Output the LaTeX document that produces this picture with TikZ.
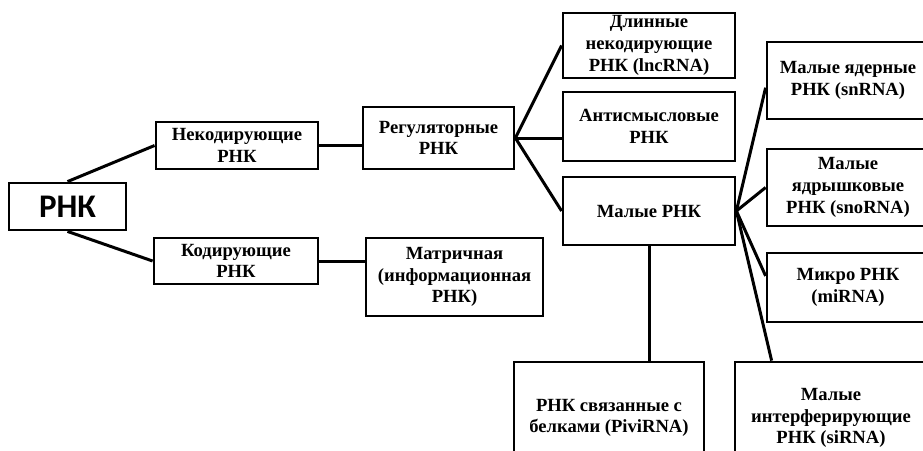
\documentclass[tikz,border=0pt]{standalone}
\usepackage{fontspec}
\setmainfont{Liberation Serif}
\newfontfamily\rnkfont{Carlito}
\usetikzlibrary{calc}

\tikzset{
  rnabox/.style={draw, line width=2.8pt, align=center, inner sep=0pt,
    font=\fontsize{18.6}{21.7}\selectfont\bfseries},
  link/.style={line width=3pt}
}

\begin{document}
\begin{tikzpicture}[x=1pt,y=-1pt]
   \useasboundingbox (0,0) rectangle (923,450);
   \clip (0,0) rectangle (923,450);
   \node[rnabox,minimum width=117pt,minimum height=47pt,font=\rnkfont\fontsize{33}{36}\selectfont\bfseries] (rnk) at (67.5,206.5) {РНК};
   \node[rnabox,minimum width=162pt,minimum height=47pt] (nekod) at (237,145.5) {Некодирующие\\РНК};
   \node[rnabox,minimum width=164pt,minimum height=46pt] (kod) at (236,261) {Кодирующие\\РНК};
   \node[rnabox,minimum width=151pt,minimum height=62pt] (regul) at (438.5,138) {Регуляторные\\РНК};
   \node[rnabox,minimum width=177pt,minimum height=78pt] (matr) at (454.5,277) {Матричная\\(информационная\\РНК)};
   \node[rnabox,minimum width=172pt,minimum height=65pt] (lnc) at (649,45.5) {Длинные\\некодирующие\\РНК (lncRNA)};
   \node[rnabox,minimum width=172pt,minimum height=69pt] (anti) at (649,126.5) {Антисмысловые\\РНК};
   \node[rnabox,minimum width=172pt,minimum height=68pt] (small) at (649,211) {Малые РНК};
   \node[rnabox,minimum width=162pt,minimum height=77pt] (sn) at (848,80.5) {Малые ядерные\\РНК (snRNA)};
   \node[rnabox,minimum width=162pt,minimum height=77pt] (sno) at (848,187.5) {Малые\\ядрышковые\\РНК (snoRNA)};
   \node[rnabox,minimum width=162pt,minimum height=69pt] (mi) at (848,287.5) {Микро РНК\\(miRNA)};
   \node[rnabox,minimum width=190pt,minimum height=112pt] (piwi) at (609,418) {РНК связанные с\\белками (PiviRNA)};
   \node[rnabox,minimum width=192pt,minimum height=112pt] (si) at (831,418) {Малые\\интерферирующие\\РНК (siRNA)};
   % ветви
   \draw[link] (rnk.north) -- (nekod.west);
   \draw[link] (rnk.south) -- (kod.west);
   \draw[link] (nekod.east) -- (nekod.east -| regul.west);
   \draw[link] (kod.east) -- (kod.east -| matr.west);
   \draw[link] (regul.east) -- (lnc.west);
   \draw[link] (regul.east) -- (regul.east -| anti.west);
   \draw[link] (regul.east) -- (small.west);
   \draw[link] (small.east) -- (sn.185);
   \draw[link] (small.east) -- (sno.west);
   \draw[link] (small.east) -- (mi.172);
   \draw[link] (small.east) -- ($(si.north west)+(38,0)$);
   \draw[link] (small.south) -- (small.south |- piwi.north);
\end{tikzpicture}
\end{document}
